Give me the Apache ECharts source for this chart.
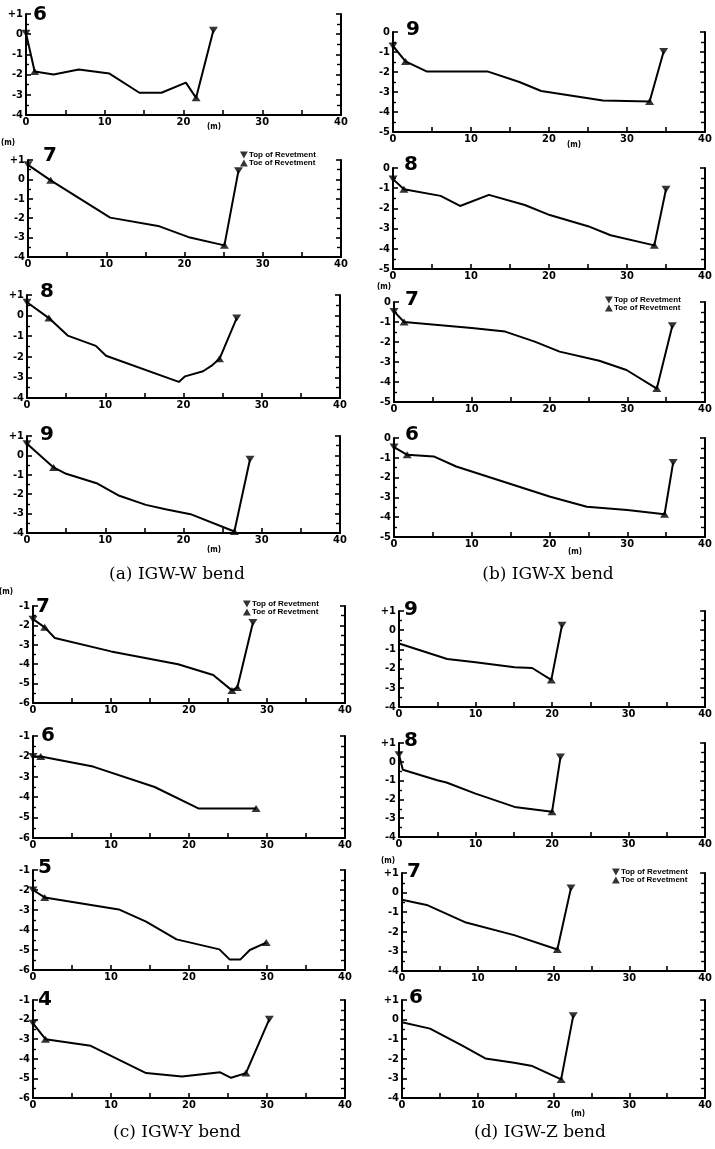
<!DOCTYPE html>
<html>
<head>
<meta charset="utf-8">
<script src="https://cdn.jsdelivr.net/npm/echarts@6/dist/echarts.min.js"></script>
<style>
  html, body { margin: 0; padding: 0; background: #fff; }
  #chart { width: 715px; height: 1149px; }
</style>
</head>
<body>
<div id="chart"></div>
<script>
// ---- (a) IGW-W bend ----
const w6Profile = [[0,0.05],[1.1,-1.85],[3.5,-2.0],[6.7,-1.75],[10.6,-1.95],[14.4,-2.9],[17.2,-2.9],[20.3,-2.4],[21.6,-3.15],[23.8,0.2]];
const w6Top = [[0,0.05],[23.8,0.2]];
const w6Toe = [[1.1,-1.85],[21.6,-3.15]];

const w7Profile = [[0,0.75],[2.9,-0.05],[10.5,-1.97],[16.8,-2.42],[20.7,-3.0],[25.1,-3.4],[26.9,0.45]];
const w7Top = [[0,0.75],[26.9,0.45]];
const w7Toe = [[2.9,-0.05],[25.1,-3.4]];

const w8Profile = [[0,0.65],[2.8,-0.12],[5.2,-0.97],[8.8,-1.47],[10.1,-1.95],[19.4,-3.22],[20.2,-2.95],[22.5,-2.7],[23.7,-2.4],[24.6,-2.1],[26.8,-0.12]];
const w8Top = [[0,0.65],[26.8,-0.12]];
const w8Toe = [[2.8,-0.12],[24.6,-2.1]];

const w9Profile = [[0,0.6],[3.4,-0.62],[5.0,-0.95],[9.0,-1.45],[11.8,-2.08],[15.2,-2.55],[17.7,-2.78],[20.9,-3.03],[26.5,-3.92],[28.5,-0.2]];
const w9Top = [[0,0.6],[28.5,-0.2]];
const w9Toe = [[3.4,-0.62],[26.5,-3.92]];

// ---- (b) IGW-X bend ----
const x9Profile = [[0,-0.7],[1.6,-1.47],[4.3,-1.97],[12.1,-1.97],[16.2,-2.5],[19.0,-2.95],[26.9,-3.42],[32.9,-3.47],[34.7,-0.97]];
const x9Top = [[0,-0.7],[34.7,-0.97]];
const x9Toe = [[1.6,-1.47],[32.9,-3.47]];

const x8Profile = [[0,-0.55],[1.4,-1.05],[6.1,-1.38],[8.6,-1.88],[12.3,-1.33],[16.9,-1.83],[20.1,-2.33],[25.0,-2.88],[27.9,-3.33],[33.5,-3.83],[35.0,-1.05]];
const x8Top = [[0,-0.55],[35.0,-1.05]];
const x8Toe = [[1.4,-1.05],[33.5,-3.83]];

const x7Profile = [[0,-0.47],[1.3,-1.0],[10.0,-1.3],[14.3,-1.48],[18.1,-1.98],[21.3,-2.48],[26.4,-2.94],[29.9,-3.4],[33.8,-4.33],[35.8,-1.19]];
const x7Top = [[0,-0.47],[35.8,-1.19]];
const x7Toe = [[1.3,-1.0],[33.8,-4.33]];

const x6Profile = [[0,-0.46],[1.7,-0.85],[5.1,-0.93],[8.0,-1.44],[20.1,-2.97],[24.8,-3.47],[30.0,-3.64],[34.8,-3.85],[35.9,-1.24]];
const x6Top = [[0,-0.46],[35.9,-1.24]];
const x6Toe = [[1.7,-0.85],[34.8,-3.85]];

// ---- (c) IGW-Y bend ----
const y7Profile = [[0,-1.68],[1.5,-2.1],[2.8,-2.65],[10.0,-3.34],[18.6,-4.0],[23.1,-4.56],[25.5,-5.35],[26.2,-5.2],[28.2,-1.85]];
const y7Top = [[0,-1.68],[28.2,-1.85]];
const y7Toe = [[1.5,-2.1],[25.5,-5.35],[26.2,-5.2]];

const y6Profile = [[0,-2.0],[1.0,-2.0],[7.7,-2.5],[15.6,-3.5],[21.2,-4.55],[28.6,-4.55]];
const y6Top = [[0,-2.0]];
const y6Toe = [[1.0,-2.0],[28.6,-4.55]];

const y5Profile = [[0,-2.0],[1.5,-2.37],[11.0,-2.97],[14.5,-3.58],[18.4,-4.47],[23.9,-4.97],[25.2,-5.47],[26.6,-5.47],[27.8,-5.0],[29.9,-4.63]];
const y5Top = [[0,-2.0]];
const y5Toe = [[1.5,-2.37],[29.9,-4.63]];

const y4Profile = [[0,-2.19],[1.6,-3.0],[7.4,-3.34],[14.5,-4.73],[19.1,-4.9],[24.0,-4.69],[25.4,-4.97],[27.3,-4.73],[30.3,-1.98]];
const y4Top = [[0,-2.19],[30.3,-1.98]];
const y4Toe = [[1.6,-3.0],[27.3,-4.73]];

// ---- (d) IGW-Z bend ----
const z9Profile = [[0,-0.69],[6.3,-1.5],[10.0,-1.67],[15.1,-1.93],[17.4,-1.97],[19.9,-2.59],[21.3,0.26]];
const z9Top = [[21.3,0.26]];
const z9Toe = [[19.9,-2.59]];

const z8Profile = [[0,0.37],[0.5,-0.42],[5.0,-0.98],[6.2,-1.1],[10.0,-1.69],[15.1,-2.4],[20.0,-2.66],[21.1,0.25]];
const z8Top = [[0,0.37],[21.1,0.25]];
const z8Toe = [[20.0,-2.66]];

const z7Profile = [[0,-0.36],[3.4,-0.65],[8.45,-1.53],[14.8,-2.17],[20.5,-2.9],[22.3,0.24]];
const z7Top = [[22.3,0.24]];
const z7Toe = [[20.5,-2.9]];

const z6Profile = [[0,-0.14],[3.7,-0.46],[7.9,-1.32],[11.0,-1.98],[14.8,-2.2],[17.2,-2.37],[21.0,-3.05],[22.6,0.2]];
const z6Top = [[22.6,0.2]];
const z6Toe = [[21.0,-3.05]];

// y ranges per bend
const rangeW = [-4, 1];
const rangeX = [-5, 0];
const rangeY = [-6, -1];
const rangeZ = [-4, 1];

const captions = ['(a) IGW-W bend', '(b) IGW-X bend', '(c) IGW-Y bend', '(d) IGW-Z bend'];

// layout of the 16 small panels
const panels = [
  { label: '6', profile: w6Profile, top: w6Top, toe: w6Toe, range: rangeW, box: [26, 14, 315, 101], num: [39, 17] },
  { label: '7', profile: w7Profile, top: w7Top, toe: w7Toe, range: rangeW, box: [28, 160, 313, 97], num: [49, 158], legend: [240, 151] },
  { label: '8', profile: w8Profile, top: w8Top, toe: w8Toe, range: rangeW, box: [27, 295, 313, 103], num: [46, 294] },
  { label: '9', profile: w9Profile, top: w9Top, toe: w9Toe, range: rangeW, box: [27, 436, 313, 97], num: [46, 437] },

  { label: '9', profile: x9Profile, top: x9Top, toe: x9Toe, range: rangeX, box: [393, 32, 312, 100], num: [412, 32] },
  { label: '8', profile: x8Profile, top: x8Top, toe: x8Toe, range: rangeX, box: [393, 168, 312, 101], num: [410, 167] },
  { label: '7', profile: x7Profile, top: x7Top, toe: x7Toe, range: rangeX, box: [394, 302, 311, 100], num: [411, 302], legend: [605, 296] },
  { label: '6', profile: x6Profile, top: x6Top, toe: x6Toe, range: rangeX, box: [394, 438, 311, 99], num: [411, 437] },

  { label: '7', profile: y7Profile, top: y7Top, toe: y7Toe, range: rangeY, box: [33, 606, 312, 97], num: [42, 609], legend: [243, 600] },
  { label: '6', profile: y6Profile, top: y6Top, toe: y6Toe, range: rangeY, box: [33, 736, 312, 102], num: [47, 738] },
  { label: '5', profile: y5Profile, top: y5Top, toe: y5Toe, range: rangeY, box: [33, 870, 312, 100], num: [44, 870] },
  { label: '4', profile: y4Profile, top: y4Top, toe: y4Toe, range: rangeY, box: [33, 1000, 312, 98], num: [44, 1002] },

  { label: '9', profile: z9Profile, top: z9Top, toe: z9Toe, range: rangeZ, box: [399, 611, 311, 96], num: [410, 612] },
  { label: '8', profile: z8Profile, top: z8Top, toe: z8Toe, range: rangeZ, box: [399, 743, 311, 94], num: [410, 743] },
  { label: '7', profile: z7Profile, top: z7Top, toe: z7Toe, range: rangeZ, box: [402, 873, 311, 98], num: [413, 874], legend: [612, 868] },
  { label: '6', profile: z6Profile, top: z6Top, toe: z6Toe, range: rangeZ, box: [402, 1000, 311, 98], num: [415, 1000] }
];

// "(m)" unit marks
const unitMarks = [[213, 128], [7, 144], [213, 551], [573, 146], [383, 288], [574, 553], [5, 593], [387, 862], [577, 1115]];

const TOP_SYMBOL = 'path://M0,0L10,0L5,9Z';
const TOE_SYMBOL = 'path://M5,0L10,9L0,9Z';
const tickFont = 'Liberation Sans Narrow, DejaVu Sans Condensed, Arial, sans-serif';

const chart = echarts.init(document.getElementById('chart'), null, { renderer: 'canvas' });

let grids = [], xAxes = [], yAxes = [], series = [], legends = [], graphics = [];

panels.forEach((p, i) => {
  grids.push({ left: p.box[0], top: p.box[1], width: p.box[2], height: p.box[3], containLabel: false });

  xAxes.push({
    gridIndex: i, type: 'value', min: 0, max: 40, interval: 10,
    axisLine: { show: true, onZero: false, lineStyle: { color: '#000', width: 2 } },
    axisTick: { show: true, inside: true, length: 5, lineStyle: { color: '#000', width: 1.6 } },
    minorTick: { show: true, splitNumber: 2, length: 5, lineStyle: { color: '#000', width: 1.6 } },
    axisLabel: { color: '#000', fontSize: 11, fontWeight: 'bold', fontFamily: tickFont, margin: 2 },
    splitLine: { show: false }
  });

  yAxes.push({
    gridIndex: i, type: 'value', min: p.range[0], max: p.range[1], interval: 1, position: 'left',
    axisLine: { show: true, onZero: false, lineStyle: { color: '#000', width: 2 } },
    axisTick: { show: true, inside: true, length: 5, lineStyle: { color: '#000', width: 1.6 } },
    minorTick: { show: true, splitNumber: 2, length: 3, lineStyle: { color: '#000', width: 1.4 } },
    axisLabel: {
      color: '#000', fontSize: 11, fontWeight: 'bold', fontFamily: tickFont, margin: 3,
      formatter: v => (v > 0 ? '+' + v : String(v))
    },
    splitLine: { show: false }
  });
  yAxes.push({
    gridIndex: i, type: 'value', min: p.range[0], max: p.range[1], interval: 1, position: 'right',
    axisLine: { show: true, onZero: false, lineStyle: { color: '#000', width: 2 } },
    axisTick: { show: true, inside: true, length: 5, lineStyle: { color: '#000', width: 1.6 } },
    minorTick: { show: true, splitNumber: 2, length: 4, lineStyle: { color: '#000', width: 1.4 } },
    axisLabel: { show: false },
    splitLine: { show: false }
  });

  series.push({
    type: 'line', xAxisIndex: i, yAxisIndex: i * 2, data: p.profile,
    symbol: 'none', silent: true, z: 2,
    lineStyle: { color: '#000', width: 2 }
  });
  series.push({
    name: 'Top of Revetment', type: 'scatter', xAxisIndex: i, yAxisIndex: i * 2, data: p.top,
    symbol: TOP_SYMBOL, symbolSize: [9, 7], itemStyle: { color: '#000' }, z: 3, silent: true
  });
  series.push({
    name: 'Toe of Revetment', type: 'scatter', xAxisIndex: i, yAxisIndex: i * 2, data: p.toe,
    symbol: TOE_SYMBOL, symbolSize: [9, 7], itemStyle: { color: '#000' }, z: 3, silent: true
  });

  if (p.legend) {
    legends.push({
      left: p.legend[0], top: p.legend[1], orient: 'vertical', itemGap: 0,
      itemWidth: 8, itemHeight: 7, selectedMode: false, padding: 0,
      data: [
        { name: 'Top of Revetment', icon: TOP_SYMBOL },
        { name: 'Toe of Revetment', icon: TOE_SYMBOL }
      ],
      textStyle: { color: '#000', fontSize: 8, fontWeight: 'bold', fontFamily: 'Liberation Sans, Arial, sans-serif', padding: [0, 0, 0, -4] }
    });
  }

  graphics.push({
    type: 'text', left: p.num[0] - 6, top: p.num[1] - 12,
    style: { text: p.label, fontSize: 20, fontWeight: 'bold', fontFamily: 'DejaVu Sans, sans-serif', fill: '#000' }
  });
});

unitMarks.forEach(m => {
  graphics.push({
    type: 'text', left: m[0] - 6, top: m[1] - 5,
    style: { text: '(m)', fontSize: 8, fontWeight: 'bold', fontFamily: tickFont, fill: '#000' }
  });
});

const captionPos = [[177, 575], [548, 575], [177, 1133], [540, 1133]];
captions.forEach((c, i) => {
  graphics.push({
    type: 'text', x: captionPos[i][0], y: captionPos[i][1],
    style: { text: c, fontSize: 17, fontFamily: 'DejaVu Serif, Liberation Serif, serif', fill: '#000', align: 'center', verticalAlign: 'middle' }
  });
});

chart.setOption({
  animation: false,
  backgroundColor: '#fff',
  grid: grids,
  xAxis: xAxes,
  yAxis: yAxes,
  legend: legends,
  series: series,
  graphic: graphics
});
</script>
</body>
</html>
